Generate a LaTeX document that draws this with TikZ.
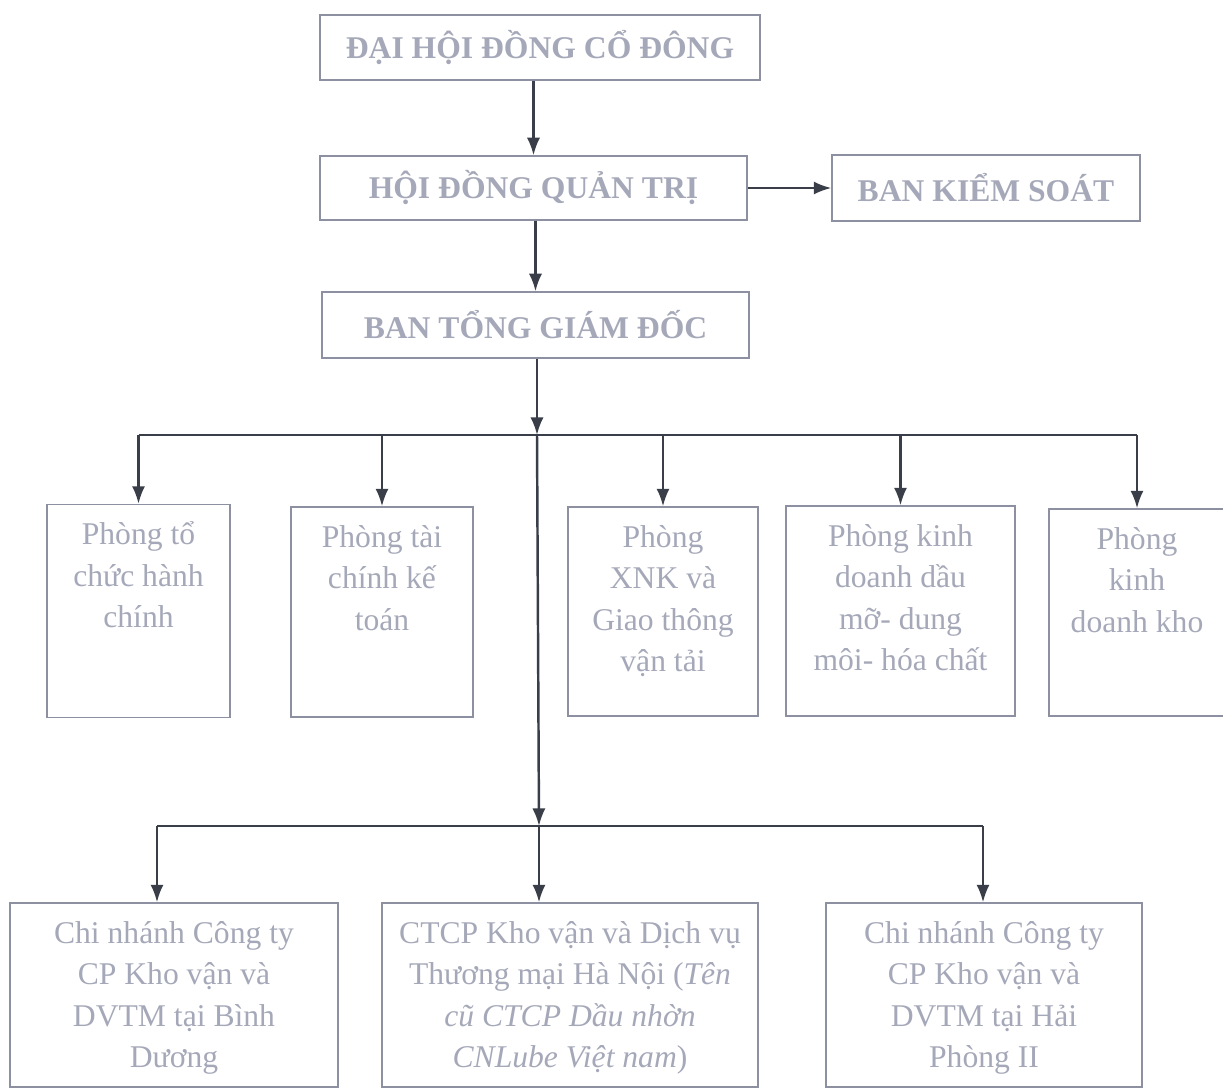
\documentclass[tikz,border=0pt]{standalone}
\usepackage{fontspec}
\setmainfont{Liberation Serif}
\usepackage{tikz}
\usetikzlibrary{arrows.meta,positioning,calc}
\definecolor{linecol}{RGB}{58,62,72}
\definecolor{boxcol}{RGB}{140,144,160}
\definecolor{txtcol}{RGB}{165,168,184}
\tikzstyle{head}=[draw=boxcol,line width=0.8pt,text=txtcol,inner sep=0pt,font=\bfseries\fontsize{18}{22}\selectfont]
\tikzstyle{dept}=[draw=boxcol,line width=0.8pt,text=txtcol,inner sep=0pt,font=\fontsize{18}{23.5}\selectfont]
\tikzstyle{link}=[draw=linecol,line width=1.4pt,-{Latex[length=10pt,width=7.5pt]}]
\newcommand{\deptbox}[3]{\parbox[c][#2][t]{#1}{\centering\rule{0pt}{23pt}#3}}

\begin{document}
\begin{tikzpicture}[x=0.02cm,y=-0.02cm]
      \useasboundingbox (0,0) rectangle (1223,1090);
      % top of the chart
      \node[head,minimum width=8.8cm,minimum height=1.3cm] at (540,47.5) (dhdcd) {ĐẠI HỘI ĐỒNG CỔ ĐÔNG};
      \node[head,minimum width=8.54cm,minimum height=1.28cm] at (533.5,188) (hdqt) {HỘI ĐỒNG QUẢN TRỊ};
      \node[head,minimum width=6.16cm,minimum height=1.32cm] at (986,188) (bks) {BAN KIỂM SOÁT};
      \node[head,minimum width=8.54cm,minimum height=1.32cm] at (535.5,325) (btgd) {BAN TỔNG GIÁM ĐỐC};
      \draw[link] (hdqt |- dhdcd.south) -- (hdqt);
      \draw[link] (hdqt) -- (bks);
      \draw[link] (btgd |- hdqt.south) -- (btgd);
      % departments
      \node[dept] at (138.5,611) (p1) {\deptbox{3.66cm}{4.26cm}{Phòng tổ\\chức hành\\chính}};
      \node[dept] at (382,612) (p2) {\deptbox{3.64cm}{4.2cm}{Phòng tài\\chính kế\\toán}};
      \node[dept] at (663,611.5) (p3) {\deptbox{3.8cm}{4.18cm}{Phòng\\XNK và\\Giao thông\\vận tải}};
      \node[dept] at (900.5,611) (p4) {\deptbox{4.58cm}{4.2cm}{Phòng kinh\\doanh dầu\\mỡ- dung\\môi- hóa chất}};
      \node[dept] at (1137,612.5) (p5) {\deptbox{3.52cm}{4.14cm}{Phòng\\kinh\\doanh kho}};
      \coordinate (bus1) at (537,435);
      \draw[link] (btgd.south -| bus1) -- (bus1);
      \draw[draw=linecol,line width=1.4pt] (bus1 -| p1) -- (bus1 -| p5);
      \foreach \p in {p1,p2,p3,p4,p5}
        \draw[link] (bus1 -| \p) -- (\p);
      % branches
      \node[dept] at (174,995) (c1) {\deptbox{6.56cm}{3.68cm}{Chi nhánh Công ty\\CP Kho vận và\\DVTM tại Bình\\Dương}};
      \node[dept] at (570,995) (c2) {\deptbox{7.52cm}{3.68cm}{CTCP Kho vận và Dịch vụ\\Thương mại Hà Nội (\textit{Tên}\\\textit{cũ CTCP Dầu nhờn}\\\textit{CNLube Việt nam})}};
      \node[dept] at (984,995) (c3) {\deptbox{6.32cm}{3.68cm}{Chi nhánh Công ty\\CP Kho vận và\\DVTM tại Hải\\Phòng II}};
      \coordinate (bus2) at (539,826);
      \coordinate (t1) at (157,826);
      \coordinate (t3) at (983,826);
      \draw[link] (bus1) -- (bus2);
      \draw[draw=linecol,line width=1.4pt] (t1) -- (t3);
      \draw[link] (t1) -- (t1 |- c1.north);
      \draw[link] (bus2) -- (bus2 |- c2.north);
      \draw[link] (t3) -- (t3 |- c3.north);
\end{tikzpicture}
\end{document}
